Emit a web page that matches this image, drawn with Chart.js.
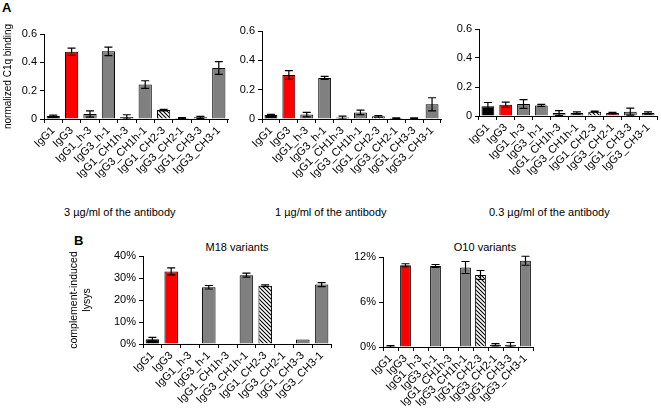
<!DOCTYPE html>
<html>
<head>
<meta charset="utf-8">
<script src="https://cdn.jsdelivr.net/npm/chart.js@4/dist/chart.umd.min.js"></script>
<style>
body{margin:0;background:#fff;width:661px;height:410px;position:relative;overflow:hidden;font-family:"Liberation Sans",Arial,sans-serif;color:#000;}
canvas{position:absolute;}
.txt{position:absolute;font-size:11px;white-space:nowrap;}
.big{position:absolute;font-size:13px;font-weight:bold;}
</style>
</head>
<body>

<div class="big" style="left:2px;top:0px;">A</div>
<div class="big" style="left:74px;top:233px;">B</div>

<canvas id="a1" width="232" height="184" style="left:0px;top:0px;"></canvas>
<canvas id="a2" width="207" height="160" style="left:238px;top:21px;"></canvas>
<canvas id="a3" width="206" height="160" style="left:455px;top:19px;"></canvas>

<div class="txt" style="left:64px;top:206px;">3 µg/ml of the antibody</div>
<div class="txt" style="left:275px;top:206px;">1 µg/ml of the antibody</div>
<div class="txt" style="left:489px;top:206px;">0.3 µg/ml of the antibody</div>

<div class="txt" style="left:137px;top:241px;width:200px;text-align:center;">M18 variants</div>
<div class="txt" style="left:385px;top:241px;width:200px;text-align:center;">O10 variants</div>

<canvas id="b1" width="269" height="164" style="left:66px;top:246px;"></canvas>
<canvas id="b2" width="184" height="163" style="left:353px;top:247px;"></canvas>

<script>
// data
const categories = ['IgG1','IgG3','IgG1_h-3','IgG3_h-1','IgG1_CH1h-3','IgG3_CH1h-1','IgG1_CH2-3','IgG3_CH2-1','IgG1_CH3-3','IgG3_CH3-1'];

const c1q3ug    = [0.022,0.475,0.035,0.478,0.015,0.243,0.063,0.007,0.012,0.36];
const c1q3ugErr = [0.005,0.025,0.022,0.03,0.015,0.027,0.005,0.003,0.007,0.045];

const c1q1ug    = [0.027,0.30,0.03,0.28,0.01,0.045,0.018,0.006,0.005,0.10];
const c1q1ugErr = [0.005,0.03,0.015,0.01,0.01,0.015,0.006,0.002,0.003,0.045];

const c1q03ug    = [0.068,0.078,0.083,0.073,0.02,0.02,0.03,0.02,0.03,0.02];
const c1q03ugErr = [0.025,0.018,0.03,0.007,0.017,0.008,0.004,0.005,0.024,0.008];

const m18    = [2.2,33.0,0.1,25.8,0.2,31.3,26.5,0.2,2.0,27.0];
const m18Err = [0.8,1.6,0,0.8,0,0.9,0.4,0,0,0.9];

const o10    = [0.1,10.9,0,10.8,0,10.6,9.6,0.3,0.3,11.5];
const o10Err = [0.1,0.2,0,0.2,0,0.8,0.6,0.15,0.3,0.6];

const c1qTicks = [0,0.2,0.4,0.6];
const m18Ticks = [0,10,20,30,40];
const o10Ticks = [0,6,12];

Chart.defaults.font.family = '"Liberation Sans", Arial, sans-serif';
Chart.defaults.color = '#000';

// hatched fill for the CH2-3 bars
function hatch(){
let c = document.createElement('canvas');
c.width = 4; c.height = 4;
let g = c.getContext('2d');
g.fillStyle = '#fff';
g.fillRect(0,0,4,4);
g.strokeStyle = '#000';
g.lineWidth = 1.1;
g.beginPath();
g.moveTo(0,0); g.lineTo(4,4);
g.moveTo(-1,3); g.lineTo(1,5);
g.moveTo(3,-1); g.lineTo(5,1);
g.stroke();
return g.createPattern(c,'repeat');
}

function barColors(special){
let cols = categories.map(()=> '#808080');
cols[0] = '#000';
cols[1] = '#ff0000';
cols[6] = hatch();
if(special) cols[7] = special;
return cols;
}

// error bars drawn from the y scale
const errorBars = {
id:'errorBars',
afterDatasetsDraw(chart){
let ctx = chart.ctx;
let y = chart.scales.y;
chart.data.datasets.forEach((ds,di)=>{
let meta = chart.getDatasetMeta(di);
meta.data.forEach((bar,i)=>{
let e = ds.errors[i];
if(!e) return;
let v = ds.data[i];
let top = y.getPixelForValue(v+e);
let bot = y.getPixelForValue(Math.max(v-e,0));
ctx.save();
ctx.strokeStyle = '#000';
ctx.lineWidth = 1.2;
ctx.beginPath();
ctx.moveTo(bar.x,top); ctx.lineTo(bar.x,bot);
ctx.moveTo(bar.x-4,top); ctx.lineTo(bar.x+4,top);
ctx.moveTo(bar.x-4,bot); ctx.lineTo(bar.x+4,bot);
ctx.stroke();
ctx.restore();
});
});
}
};

function makeChart(id, values, errors, o){
return new Chart(document.getElementById(id), {
type:'bar',
data:{
labels:categories,
datasets:[{
data:values,
errors:errors,
backgroundColor:barColors(o.special),
borderColor:'#000',
borderWidth:1,
barPercentage:0.72,
categoryPercentage:1
}]
},
options:{
responsive:false,
animation:false,
layout:{padding:{top:o.top||10,right:4,left:0,bottom:0}},
plugins:{legend:{display:false},tooltip:{enabled:false}},
scales:{
x:{
grid:{display:true,drawOnChartArea:false,tickLength:4,color:'#000'},
border:{color:'#000',width:1},
ticks:{autoSkip:false,minRotation:45,maxRotation:45,padding:1,font:{size:11}},
afterFit(s){ s.height = o.xH; }
},
y:{
min:0,
max:o.ticks[o.ticks.length-1],
afterBuildTicks(s){ s.ticks = o.ticks.map(v=>({value:v})); },
grid:{display:true,drawOnChartArea:false,tickLength:4,color:'#000'},
border:{color:'#000',width:1},
ticks:{padding:3,font:{size:11},callback:o.fmt},
title:o.title ? {display:true,text:o.title,font:{size:o.titleSize||11},padding:{top:2,bottom:0}} : {display:false},
afterFit(s){ s.width = o.yW; }
}
}
},
plugins:[errorBars]
});
}

let fmtC1q = v => v===0 ? '0' : v.toFixed(1);
let fmtPct = v => v + '%';

/* A : C1q binding */
makeChart('a1', c1q3ug, c1q3ugErr, {ticks:c1qTicks, fmt:fmtC1q, yW:44, xH:65, top:34, title:'normalized C1q binding', titleSize:10});
makeChart('a2', c1q1ug, c1q1ugErr, {ticks:c1qTicks, fmt:fmtC1q, yW:24, xH:62});
makeChart('a3', c1q03ug, c1q03ugErr, {ticks:c1qTicks, fmt:fmtC1q, yW:24, xH:63, special:'#c83c3c'});

/* B : complement lysis */
makeChart('b1', m18, m18Err, {ticks:m18Ticks, fmt:fmtPct, yW:77, xH:66, title:['complement-induced','lysys'], titleSize:10.5});
makeChart('b2', o10, o10Err, {ticks:o10Ticks, fmt:fmtPct, yW:30, xH:63});
</script>
</body>
</html>
